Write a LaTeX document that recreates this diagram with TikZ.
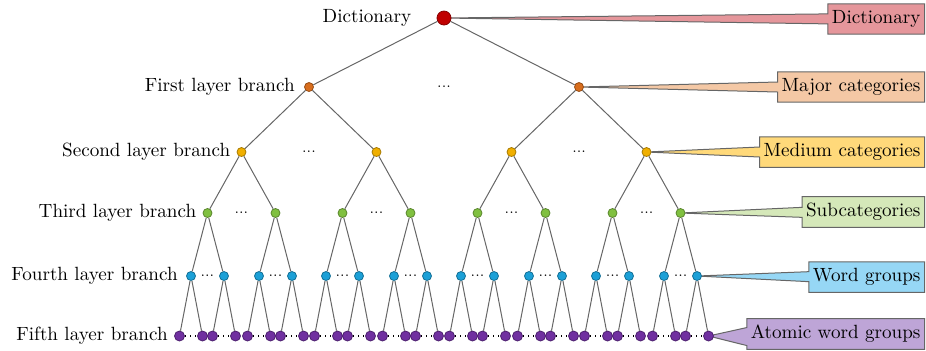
\documentclass[tikz,border=0pt]{standalone}
\usetikzlibrary{positioning, shapes.callouts, backgrounds}

\definecolor{dictnode}{RGB}{192,0,0}
\definecolor{dictfill}{RGB}{229,150,155}
\definecolor{majnode}{RGB}{216,110,30}
\definecolor{majfill}{RGB}{244,200,165}
\definecolor{mednode}{RGB}{240,175,0}
\definecolor{medfill}{RGB}{255,217,122}
\definecolor{subnode}{RGB}{128,192,64}
\definecolor{subfill}{RGB}{213,232,185}
\definecolor{wordnode}{RGB}{28,160,215}
\definecolor{wordfill}{RGB}{150,215,245}
\definecolor{atomnode}{RGB}{112,48,160}
\definecolor{atomfill}{RGB}{190,165,215}

\begin{document}
\begin{tikzpicture}[
      x=0.5bp, y=-0.5bp,
      node distance=3bp,
      font=\fontsize{9.6}{11}\selectfont,
      knot/.style={circle, draw, inner sep=0pt, minimum size=4.5bp, line width=0.4bp},
      rootknot/.style={knot, fill=dictnode, draw=dictnode!70!black, minimum size=7bp},
      knotA/.style={knot, fill=majnode, draw=majnode!70!black},
      knotB/.style={knot, fill=mednode, draw=mednode!70!black},
      knotC/.style={knot, fill=subnode, draw=subnode!70!black},
      knotD/.style={knot, fill=wordnode, draw=wordnode!70!black},
      knotE/.style={knot, fill=atomnode, draw=atomnode!70!black, minimum size=5bp},
      layer/.style={inner sep=0pt},
      etc/.style={inner sep=0pt, font=\fontsize{7}{8}\selectfont},
      leafdots/.style={dotted, line width=0.6bp},
      calloutbox/.style={rectangle callout, draw=black!60, line width=0.5bp, anchor=east,
        minimum height=15bp, inner xsep=2bp, callout pointer width=5bp},
      edge from parent/.style={draw=black!60, line width=0.5bp},
      level 1/.style={sibling distance=135bp, level distance=34.5bp},
      level 2/.style={sibling distance=67.5bp, level distance=32.5bp},
      level 3/.style={sibling distance=34bp, level distance=30.5bp},
      level 4/.style={sibling distance=16.5bp, level distance=31.5bp},
      level 5/.style={sibling distance=11.5bp, level distance=30bp}
    ]
    \useasboundingbox (0,0) rectangle (926,350);

    % the tree, five levels below the root
    \node[rootknot] (dict) at (444,18) {}
      child foreach \pa in {1,2} {node[knotA] {}
        child foreach \pb in {1,2} {node[knotB] {}
          child foreach \pc in {1,2} {node[knotC] {}
            child foreach \pd in {1,2} {node[knotD] {}
              child foreach \pe in {1,2} {node[knotE] {}}}}}};

    % ellipses between siblings
    \node[etc] (etc) at (dict |- dict-1) {...};
    \foreach \pa in {1,2} {
      \node[etc] (etc-\pa) at (dict-\pa |- dict-\pa-1) {...};
      \foreach \pb in {1,2} {
        \node[etc] (etc-\pa-\pb) at (dict-\pa-\pb |- dict-\pa-\pb-1) {...};
        \foreach \pc in {1,2} {
          \node[etc] (etc-\pa-\pb-\pc) at (dict-\pa-\pb-\pc |- dict-\pa-\pb-\pc-1) {...};
          \foreach \pd in {1,2}
            \draw[leafdots] (dict-\pa-\pb-\pc-\pd-1) -- (dict-\pa-\pb-\pc-\pd-2);
        }
      }
    }

    % layer names
    \node[layer, left=12.5bp of dict] (lab0) {Dictionary};
    \node[layer, left=4.5bp of dict-1] (lab1) {First layer branch};
    \node[layer, left=of dict-1-1] (lab2) {Second layer branch};
    \node[layer, left=of dict-1-1-1] (lab3) {Third layer branch};
    \node[layer, left=4bp of dict-1-1-1-1] (lab4) {Fourth layer branch};
    \node[layer, left=of dict-1-1-1-1-1] (lab5) {Fifth layer branch};

    % callouts
    \begin{scope}[on background layer]
      \node[calloutbox, fill=dictfill, callout absolute pointer={(dict.center)}] (tag0) at (925,19) {Dictionary};
      \node[calloutbox, fill=majfill, callout absolute pointer={(dict-2.center)}] (tag1) at (925,87) {Major categories};
      \node[calloutbox, fill=medfill, callout absolute pointer={(dict-2-2.center)}] (tag2) at (925,152) {Medium categories};
      \node[calloutbox, fill=subfill, callout absolute pointer={(dict-2-2-2.center)}] (tag3) at (925,212) {Subcategories};
      \node[calloutbox, fill=wordfill, callout absolute pointer={(dict-2-2-2-2.center)}] (tag4) at (925,277) {Word groups};
      \node[calloutbox, fill=atomfill, callout pointer width=9bp, callout absolute pointer={(dict-2-2-2-2-2.center)}] (tag5) at (925,334) {Atomic word groups};
    \end{scope}
\end{tikzpicture}
\end{document}
